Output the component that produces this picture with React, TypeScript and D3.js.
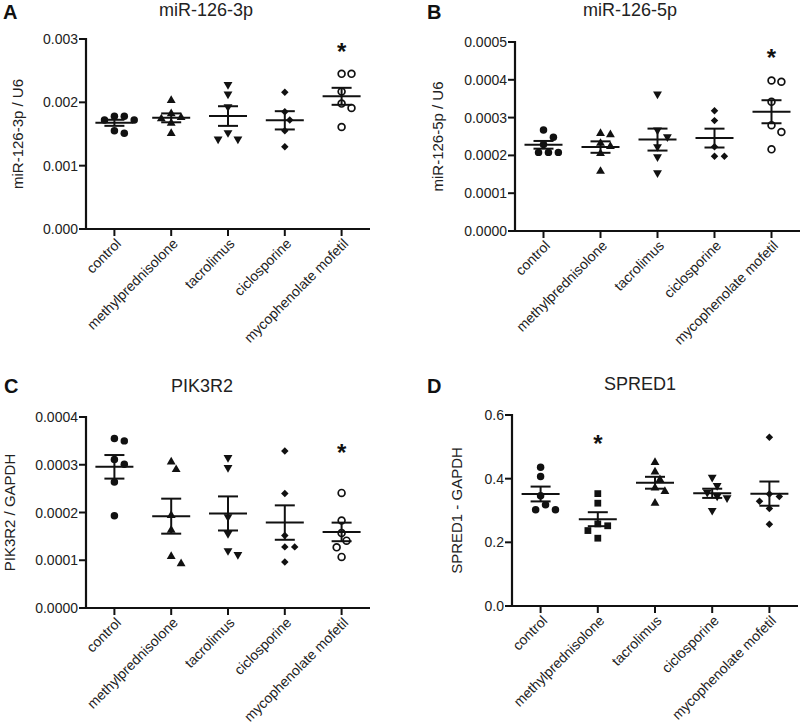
import React from "react";
import * as d3 from "d3";

const categories = ["control", "methylprednisolone", "tacrolimus", "ciclosporine", "mycophenolate mofetil"];

// Panel A: miR-126-3p / U6
const mir3pValues: number[][] = [
  [0.00178, 0.00178, 0.00172, 0.00172, 0.00155, 0.00151],
  [0.00203, 0.00182, 0.00176, 0.00174, 0.00167, 0.00151],
  [0.00228, 0.00213, 0.00193, 0.00152, 0.00142, 0.00142],
  [0.00216, 0.00185, 0.00172, 0.00155, 0.0013],
  [0.00245, 0.00245, 0.00217, 0.00198, 0.00191, 0.00161],
];
const mir3pTicks = [0, 0.001, 0.002, 0.003];
const mir3pStar = 0.00284;

// Panel B: miR-126-5p / U6
const mir5pValues: number[][] = [
  [0.000267, 0.000248, 0.000229, 0.000208, 0.000208, 0.000208],
  [0.000258, 0.000255, 0.000232, 0.000224, 0.000205, 0.000158],
  [0.000362, 0.000267, 0.000249, 0.000223, 0.000196, 0.000154],
  [0.000318, 0.000292, 0.000223, 0.000198, 0.000198],
  [0.000398, 0.000395, 0.000342, 0.00028, 0.000262, 0.000216],
];
const mir5pTicks = [0, 0.0001, 0.0002, 0.0003, 0.0004, 0.0005];
const mir5pStar = 0.000466;

// Panel C: PIK3R2 / GAPDH
const pik3r2Values: number[][] = [
  [0.000355, 0.00035, 0.000311, 0.000301, 0.000264, 0.000193],
  [0.000306, 0.00029, 0.000194, 0.000163, 0.000108, 0.000093],
  [0.000315, 0.000294, 0.000191, 0.000156, 0.00012, 0.000112],
  [0.000329, 0.00024, 0.000152, 0.000128, 0.000128, 0.0000965],
  [0.000241, 0.000183, 0.000157, 0.000141, 0.000127, 0.000107],
];
const pik3r2Ticks = [0, 0.0001, 0.0002, 0.0003, 0.0004];
const pik3r2Star = 0.000331;

// Panel D: SPRED1 - GAPDH
const spred1Values: number[][] = [
  [0.436, 0.407, 0.346, 0.318, 0.302, 0.302],
  [0.353, 0.323, 0.258, 0.252, 0.237, 0.213],
  [0.451, 0.421, 0.397, 0.371, 0.36, 0.323],
  [0.404, 0.378, 0.357, 0.345, 0.34, 0.3],
  [0.53, 0.352, 0.344, 0.329, 0.306, 0.257],
];
const spred1Ticks = [0, 0.2, 0.4, 0.6];
const spred1Star = 0.517;

const shapesABC = ["circle", "triangle", "triangleDown", "diamond", "openCircle"];
const shapesD = ["circle", "square", "triangle", "triangleDown", "diamond"];

const INK = "#111";
const FONT = "'Liberation Sans', Arial, Helvetica, sans-serif";

function swarm(vals: number[], y: (v: number) => number, cx: number, d: number) {
  const order = vals.map((v, i) => i).sort((a, b) => vals[b] - vals[a]);
  const placed: { x: number; y: number }[] = [];
  const out: { x: number; y: number }[] = new Array(vals.length);
  for (const i of order) {
    const py = y(vals[i]);
    let px = cx;
    for (let k = 0; k < 40; k++) {
      const off = k === 0 ? 0 : (k % 2 === 1 ? 1 : -1) * Math.ceil(k / 2) * (d * 0.55);
      const cand = cx + off;
      const ok = placed.every((p) => Math.hypot(p.x - cand, p.y - py) >= d);
      if (ok) {
        px = cand;
        break;
      }
    }
    placed.push({ x: px, y: py });
    out[i] = { x: px, y: py };
  }
  return out;
}

function Marker({ shape, x, y }: { shape: string; x: number; y: number }) {
  if (shape === "openCircle") {
    return <circle cx={x} cy={y} r={3.4} fill="#fff" stroke={INK} strokeWidth={1.7} />;
  }
  let p = "";
  let rot = 0;
  if (shape === "circle") p = d3.symbol(d3.symbolCircle, 44)() as string;
  else if (shape === "triangle") p = d3.symbol(d3.symbolTriangle, 34)() as string;
  else if (shape === "triangleDown") {
    p = d3.symbol(d3.symbolTriangle, 34)() as string;
    rot = 180;
  } else if (shape === "diamond") {
    p = d3.symbol(d3.symbolSquare, 28)() as string;
    rot = 45;
  } else if (shape === "square") p = d3.symbol(d3.symbolSquare, 46)() as string;
  return <path d={p} transform={`translate(${x},${y}) rotate(${rot})`} fill={INK} />;
}

type PanelProps = {
  letter: string;
  letterX: number;
  letterY: number;
  title: string;
  titleX: number;
  titleY: number;
  yLabel: string;
  yLabelX: number;
  x0: number;
  x1: number;
  yTop: number;
  yBottom: number;
  values: number[][];
  ticks: number[];
  fmt: string;
  shapes: string[];
  starIndex: number;
  starValue: number;
};

function Panel(props: PanelProps) {
  const { letter, letterX, letterY, title, titleX, titleY, yLabel, yLabelX, x0, x1, yTop, yBottom, values, ticks, fmt, shapes, starIndex, starValue } = props;
  const x = d3.scaleBand().domain(categories).range([x0, x1]).padding(0);
  const y = d3.scaleLinear().domain([0, ticks[ticks.length - 1]]).range([yBottom, yTop]);
  const f = d3.format(fmt);
  const cxOf = (c: string) => (x(c) as number) + x.bandwidth() / 2;
  return (
    <g>
      <text x={letterX} y={letterY} fontFamily={FONT} fontWeight="bold" fontSize={20} fill={INK}>
        {letter}
      </text>
      <text x={titleX} y={titleY} fontFamily={FONT} fontSize={18} fill="#222" textAnchor="middle">
        {title}
      </text>
      <text
        transform={`translate(${yLabelX},${(yTop + yBottom) / 2}) rotate(-90)`}
        fontFamily={FONT}
        fontSize={15}
        fill="#222"
        textAnchor="middle"
        dominantBaseline="central"
      >
        {yLabel}
      </text>
      {/* y axis */}
      <line x1={x0} x2={x0} y1={yTop - 1} y2={yBottom + 1} stroke={INK} strokeWidth={2.2} />
      {ticks.map((t) => (
        <g key={t}>
          <line x1={x0 - 7} x2={x0} y1={y(t)} y2={y(t)} stroke={INK} strokeWidth={2} />
          <text x={x0 - 8} y={y(t)} fontFamily={FONT} fontSize={14} fill="#222" textAnchor="end" dominantBaseline="central">
            {f(t)}
          </text>
        </g>
      ))}
      {/* x axis */}
      <line x1={x0 - 1} x2={x1} y1={yBottom} y2={yBottom} stroke={INK} strokeWidth={2.2} />
      {categories.map((c) => (
        <g key={c}>
          <line x1={cxOf(c)} x2={cxOf(c)} y1={yBottom} y2={yBottom + 7} stroke={INK} strokeWidth={2} />
          <text
            transform={`translate(${cxOf(c) + 4},${yBottom + 12}) rotate(-45)`}
            fontFamily={FONT}
            fontSize={14}
            fill="#222"
            textAnchor="end"
            dominantBaseline="central"
          >
            {c}
          </text>
        </g>
      ))}
      {/* data */}
      {categories.map((c, gi) => {
        const vals = values[gi];
        const cx = cxOf(c);
        const mean = d3.mean(vals) as number;
        const sem = (d3.deviation(vals) as number) / Math.sqrt(vals.length);
        const pts = swarm(vals, y, cx, 9);
        return (
          <g key={c}>
            {pts.map((p, i) => (
              <Marker key={i} shape={shapes[gi]} x={p.x} y={p.y} />
            ))}
            <line x1={cx - 19} x2={cx + 19} y1={y(mean)} y2={y(mean)} stroke={INK} strokeWidth={2} />
            <line x1={cx} x2={cx} y1={y(mean + sem)} y2={y(mean - sem)} stroke={INK} strokeWidth={2} />
            <line x1={cx - 10} x2={cx + 10} y1={y(mean + sem)} y2={y(mean + sem)} stroke={INK} strokeWidth={2} />
            <line x1={cx - 10} x2={cx + 10} y1={y(mean - sem)} y2={y(mean - sem)} stroke={INK} strokeWidth={2} />
            {gi === starIndex && (
              <text x={cx} y={y(starValue) + 11} fontFamily={FONT} fontWeight="bold" fontSize={24} fill={INK} textAnchor="middle">
                *
              </text>
            )}
          </g>
        );
      })}
    </g>
  );
}

export default function App() {
  return (
    <svg width={800} height={725} style={{ position: "absolute", left: 0, top: 0, background: "#fff" }}>
      <rect width={800} height={725} fill="#fff" />
      <Panel letter="A" letterX={3} letterY={19} title="miR-126-3p" titleX={206} titleY={16} yLabel="miR-126-3p / U6" yLabelX={17}
        x0={86} x1={370} yTop={39} yBottom={229} values={mir3pValues} ticks={mir3pTicks} fmt=".3f"
        shapes={shapesABC} starIndex={4} starValue={mir3pStar} />
      <Panel letter="B" letterX={427} letterY={19} title="miR-126-5p" titleX={630} titleY={16} yLabel="miR-126-5p / U6" yLabelX={437}
        x0={515} x1={800} yTop={42} yBottom={231} values={mir5pValues} ticks={mir5pTicks} fmt=".4f"
        shapes={shapesABC} starIndex={4} starValue={mir5pStar} />
      <Panel letter="C" letterX={4} letterY={393} title="PIK3R2" titleX={202} titleY={392} yLabel="PIK3R2 / GAPDH" yLabelX={9}
        x0={86} x1={370} yTop={417} yBottom={608} values={pik3r2Values} ticks={pik3r2Ticks} fmt=".4f"
        shapes={shapesABC} starIndex={4} starValue={pik3r2Star} />
      <Panel letter="D" letterX={427} letterY={393} title="SPRED1" titleX={640} titleY={390} yLabel="SPRED1 - GAPDH" yLabelX={456}
        x0={512} x1={798} yTop={415} yBottom={606} values={spred1Values} ticks={spred1Ticks} fmt=".1f"
        shapes={shapesD} starIndex={1} starValue={spred1Star} />
    </svg>
  );
}
